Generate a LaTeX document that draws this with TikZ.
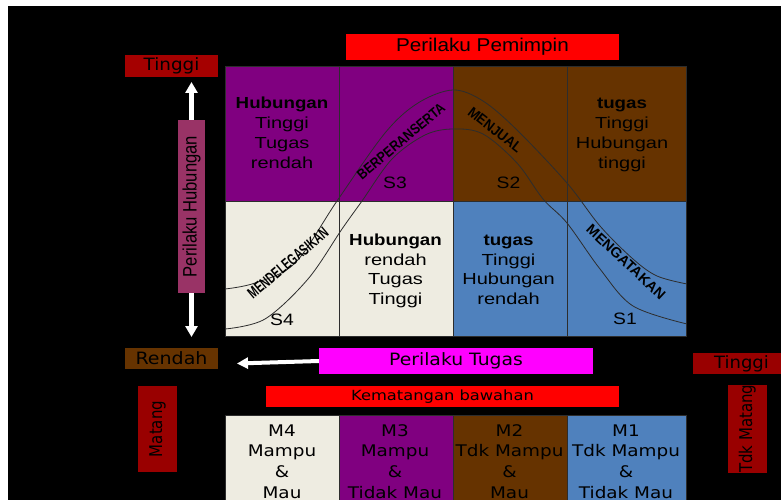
\documentclass[tikz,border=0pt]{standalone}
\usepackage{fontspec}
\setmainfont{Liberation Sans}
\newfontfamily\verd{DejaVu Sans}
\usepackage{graphicx}
\usetikzlibrary{arrows.meta}
\definecolor{qpurple}{RGB}{128,0,128}
\definecolor{qbrown}{RGB}{102,51,0}
\definecolor{qbeige}{RGB}{238,236,225}
\definecolor{qblue}{RGB}{79,129,189}
\definecolor{darkred}{RGB}{153,0,0}
\definecolor{topred}{RGB}{165,0,0}
\definecolor{mauve}{RGB}{153,51,102}
\definecolor{magentab}{RGB}{255,0,255}
\definecolor{gridline}{RGB}{45,45,45}
\newcommand{\sx}[2]{\scalebox{#1}[1]{#2}}
\newcommand{\sy}[2]{\scalebox{1}[#1]{#2}}
\begin{document}
\begin{tikzpicture}[x=1pt,y=-1pt,
  gridl/.style={draw=gridline, line width=0.8pt},
  curveline/.style={draw=gridline, line width=0.8pt},
  box/.style={rectangle, inner sep=0pt, text=black},
  lbl/.style={inner sep=0pt, anchor=base, text=black},
  qtxt/.style={lbl, font=\fontsize{16}{19}\selectfont},
  mtxt/.style={lbl, font=\verd\fontsize{16}{19}\selectfont},
  stxt/.style={lbl, font=\fontsize{16.5}{19}\selectfont},
  ctxt/.style={inner sep=0pt, text=black},
  warrow/.style={white, line width=5.5pt, -{Triangle[width=12pt,length=11pt]}},
  warrowh/.style={white, line width=4pt, -{Triangle[width=11pt,length=11pt]}}
]
\useasboundingbox (0,0) rectangle (781,500);
\clip (0,0) rectangle (781,500);
\fill[white] (0,0) rectangle (781,500);
\fill[black] (8,6) rectangle (781,500);

% quadrant grid
\fill[qpurple] (225,66) rectangle (453,201);
\fill[qbrown] (453,66) rectangle (686,201);
\fill[qbeige] (225,201) rectangle (453,336);
\fill[qblue] (453,201) rectangle (686,336);
\draw[gridl] (225,66) rectangle (686,336);
\draw[gridl] (339,66) -- (339,336);
\draw[gridl] (453,66) -- (453,336);
\draw[gridl] (567,66) -- (567,336);
\draw[gridl] (225,201) -- (686,201);

% maturity row
\fill[qbeige] (225,415) rectangle (339,505);
\fill[qpurple] (339,415) rectangle (453,505);
\fill[qbrown] (453,415) rectangle (567,505);
\fill[qblue] (567,415) rectangle (686,505);
\draw[gridl] (225,505) -- (225,415) -- (686,415) -- (686,505);
\draw[gridl] (339,415) -- (339,505);
\draw[gridl] (453,415) -- (453,505);
\draw[gridl] (567,415) -- (567,505);

% curves
\draw[curveline] plot[smooth, tension=0.55] coordinates {(225,289) (255,283) (295,263) (337,201) (385,133) (418,103) (453,90) (483,101) (517,130) (567,183) (600,226) (633,259) (657,276) (687,284)};
\draw[curveline] plot[smooth, tension=0.55] coordinates {(225,329) (265,319) (308,279) (342,229) (362,201) (392,159) (425,135) (453,129) (483,134) (517,163) (543,199) (567,223) (600,269) (633,306) (687,324)};

% curve labels
\node[ctxt, rotate=40] (tdel) at (288,263) {\resizebox{100pt}{11pt}{\bfseries MENDELEGASIKAN}};
\node[ctxt, rotate=40] (tber) at (401,141) {\resizebox{110pt}{10pt}{\bfseries BERPERANSERTA}};
\node[ctxt, rotate=-38] (tjual) at (495,130) {\resizebox{64pt}{10pt}{\bfseries MENJUAL}};
\node[ctxt, rotate=-43] (tkat) at (626,262) {\resizebox{102pt}{10pt}{\bfseries MENGATAKAN}};

% style labels
\node[stxt] (s4) at (282,325.3) {\sx{1.17}{S4}};
\node[stxt] (s3) at (395,188.7) {\sx{1.17}{S3}};
\node[stxt] (s2) at (508.5,188.7) {\sx{1.17}{S2}};
\node[stxt] (s1) at (625,324.3) {\sx{1.17}{S1}};

% quadrant texts
\node[qtxt] (q1a) at (282,109) {\sx{1.17}{\bfseries Hubungan}};
\node[qtxt] (q1b) at (282,128.7) {\sx{1.25}{Tinggi}};
\node[qtxt] (q1c) at (282,148.4) {\sx{1.25}{Tugas}};
\node[qtxt] (q1d) at (282,168) {\sx{1.25}{rendah}};
\node[qtxt] (q2a) at (395.5,245.3) {\sx{1.17}{\bfseries Hubungan}};
\node[qtxt] (q2b) at (395.5,265) {\sx{1.25}{rendah}};
\node[qtxt] (q2c) at (395.5,284.8) {\sx{1.25}{Tugas}};
\node[qtxt] (q2d) at (395.5,304.5) {\sx{1.25}{Tinggi}};
\node[qtxt] (q3a) at (622,109) {\sx{1.17}{\bfseries tugas}};
\node[qtxt] (q3b) at (622,128.7) {\sx{1.25}{Tinggi}};
\node[qtxt] (q3c) at (622,148.4) {\sx{1.25}{Hubungan}};
\node[qtxt] (q3d) at (622,168) {\sx{1.25}{tinggi}};
\node[qtxt] (q4a) at (508.5,245.3) {\sx{1.17}{\bfseries tugas}};
\node[qtxt] (q4b) at (508.5,265) {\sx{1.25}{Tinggi}};
\node[qtxt] (q4c) at (508.5,284.8) {\sx{1.25}{Hubungan}};
\node[qtxt] (q4d) at (508.5,304.5) {\sx{1.25}{rendah}};

% maturity texts
\node[mtxt] (m4a) at (282,436) {\sx{1.15}{M4}};
\node[mtxt] (m4b) at (282,456.7) {\sx{1.15}{Mampu}};
\node[mtxt] (m4c) at (282,477.3) {\sx{1.15}{\&}};
\node[mtxt] (m4d) at (282,498) {\sx{1.15}{Mau}};
\node[mtxt] (m3a) at (395,436) {\sx{1.15}{M3}};
\node[mtxt] (m3b) at (395,456.7) {\sx{1.15}{Mampu}};
\node[mtxt] (m3c) at (395,477.3) {\sx{1.15}{\&}};
\node[mtxt] (m3d) at (395,498) {\sx{1.15}{Tidak Mau}};
\node[mtxt] (m2a) at (509.5,436) {\sx{1.15}{M2}};
\node[mtxt] (m2b) at (509.5,456.7) {\sx{1.15}{Tdk Mampu}};
\node[mtxt] (m2c) at (509.5,477.3) {\sx{1.15}{\&}};
\node[mtxt] (m2d) at (509.5,498) {\sx{1.15}{Mau}};
\node[mtxt] (m1a) at (626,436) {\sx{1.15}{M1}};
\node[mtxt] (m1b) at (626,456.7) {\sx{1.15}{Tdk Mampu}};
\node[mtxt] (m1c) at (626,477.3) {\sx{1.15}{\&}};
\node[mtxt] (m1d) at (626,498) {\sx{1.15}{Tidak Mau}};

% header / axis boxes
\node[box, fill=red, minimum width=273pt, minimum height=26pt, font=\fontsize{18.5}{20}\selectfont] (pp) at (482.5,47) {\sx{1.12}{Perilaku Pemimpin}};
\node[box, fill=topred, minimum width=93pt, minimum height=22pt, font=\verd\fontsize{17}{19}\selectfont] (ttop) at (171.5,66) {\sx{1.08}{Tinggi}};
\node[box, fill=qbrown, minimum width=93pt, minimum height=21pt, font=\verd\fontsize{17}{19}\selectfont] (rend) at (171.5,358.5) {\sx{1.12}{Rendah}};
\node[box, fill=mauve, minimum width=173pt, minimum height=27pt, rotate=90, font=\fontsize{16.6}{19}\selectfont] (ph) at (191.5,206.5) {\sy{1.17}{Perilaku Hubungan}};
\node[box, fill=magentab, minimum width=274pt, minimum height=26pt, font=\verd\fontsize{17}{19}\selectfont] (pt) at (456,361) {\sx{1.105}{Perilaku Tugas}};
\node[box, fill=red, minimum width=353pt, minimum height=21pt, font=\verd\fontsize{14}{16}\selectfont] (kb) at (442.5,396.5) {\sx{1.165}{Kematangan bawahan}};
\node[box, fill=darkred, minimum width=86pt, minimum height=39pt, rotate=90, font=\verd\fontsize{15}{17}\selectfont] (mat) at (157.5,429) {\sy{1.17}{Matang}};
\node[box, fill=darkred, minimum width=97pt, minimum height=21pt, font=\verd\fontsize{17}{19}\selectfont] (tright) at (741.5,363.5) {\sx{1.06}{Tinggi}};
\node[box, fill=darkred, minimum width=85.5pt, minimum height=39.5pt, rotate=90, font=\verd\fontsize{15}{17}\selectfont] (tmat) at (747.25,428.75) {\sy{1.17}{Tdk Matang}};

% arrows
\coordinate (uptip) at (191.5,82);
\coordinate (downtip) at (191.5,337);
\coordinate (lefttip) at (237,363.5);
\draw[warrow] (ph.east) -- (uptip);
\draw[warrow] (ph.west) -- (downtip);
\draw[warrowh] (pt.west) -- (lefttip);
\end{tikzpicture}
\end{document}
